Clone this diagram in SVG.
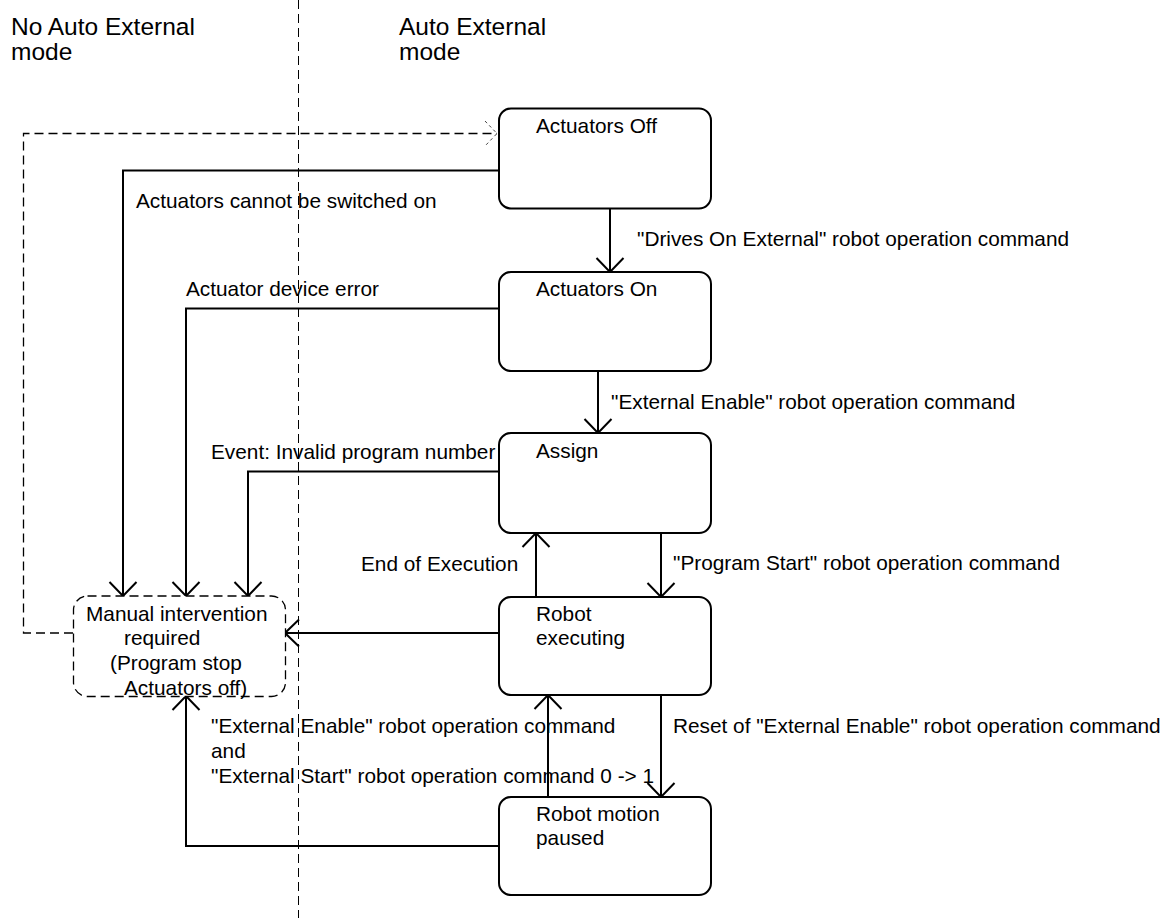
<svg xmlns="http://www.w3.org/2000/svg" width="1172" height="918" viewBox="0 0 1172 918">
  <style>
    text { font-family: "Liberation Sans", Arial, sans-serif; font-size: 20.8px; fill: #000; }
    .hdr { font-size: 24.5px; }
    .state { fill: #fff; stroke: #000; stroke-width: 2; }
    .manual { fill: #fff; stroke: #000; stroke-width: 1.3; stroke-dasharray: 9 5; }
    .edge { fill: none; stroke: #000; stroke-width: 2; }
    .dash { fill: none; stroke: #000; stroke-width: 1.3; stroke-dasharray: 9 5; }
    .divider { fill: none; stroke: #000; stroke-width: 1; stroke-dasharray: 9 5; }
  </style>
  <defs>
    <marker id="open" viewBox="0 0 16 30" refX="15" refY="15" markerWidth="16" markerHeight="30" markerUnits="userSpaceOnUse" orient="auto">
      <polyline points="1,1.5 15,15 1,28.5" fill="none" stroke="#000" stroke-width="2"/>
    </marker>
  </defs>

  <rect width="1172" height="918" fill="#fff"/>

  <!-- mode divider and headings -->
  <g id="modes">
    <line class="divider" x1="298.5" y1="0" x2="298.5" y2="918"/>
    <text class="hdr" x="11" y="35">No Auto External</text>
    <text class="hdr" x="11" y="60">mode</text>
    <text class="hdr" x="399" y="35">Auto External</text>
    <text class="hdr" x="399" y="60">mode</text>
  </g>

  <!-- transitions -->
  <g id="connectors">
    <!-- Actuators Off -> Actuators On -->
    <line class="edge" x1="610" y1="208" x2="610" y2="272" marker-end="url(#open)"/>
    <text x="637" y="246">"Drives On External" robot operation command</text>

    <!-- Actuators On -> Assign -->
    <line class="edge" x1="598" y1="371" x2="598" y2="433" marker-end="url(#open)"/>
    <text x="611" y="409">"External Enable" robot operation command</text>

    <!-- Assign -> Robot executing -->
    <line class="edge" x1="661" y1="533" x2="661" y2="597" marker-end="url(#open)"/>
    <text x="673" y="570">"Program Start" robot operation command</text>

    <!-- Robot executing -> Assign -->
    <line class="edge" x1="536" y1="597" x2="536" y2="533" marker-end="url(#open)"/>
    <text x="361" y="571">End of Execution</text>

    <!-- Robot executing -> Robot motion paused -->
    <line class="edge" x1="661" y1="695" x2="661" y2="797" marker-end="url(#open)"/>
    <text x="673" y="733">Reset of "External Enable" robot operation command</text>

    <!-- Robot motion paused -> Robot executing -->
    <line class="edge" x1="548" y1="797" x2="548" y2="695" marker-end="url(#open)"/>
    <text x="211" y="733">"External Enable" robot operation command</text>
    <text x="211" y="758">and</text>
    <text x="211" y="783">"External Start" robot operation command 0 -&gt; 1</text>

    <!-- Actuators Off -> Manual intervention -->
    <polyline class="edge" points="499,170.5 123,170.5 123,596" marker-end="url(#open)"/>
    <text x="136" y="208">Actuators cannot be switched on</text>

    <!-- Actuators On -> Manual intervention -->
    <polyline class="edge" points="499,308.5 186,308.5 186,596" marker-end="url(#open)"/>
    <text x="186" y="296">Actuator device error</text>

    <!-- Assign -> Manual intervention -->
    <polyline class="edge" points="499,471.5 248,471.5 248,596" marker-end="url(#open)"/>
    <text x="211" y="459">Event: Invalid program number</text>

    <!-- Robot executing -> Manual intervention -->
    <line class="edge" x1="499" y1="633" x2="285" y2="633" marker-end="url(#open)"/>

    <!-- Robot motion paused -> Manual intervention -->
    <polyline class="edge" points="499,846 186,846 186,696" marker-end="url(#open)"/>

    <!-- Manual intervention -> Actuators Off (dashed) -->
    <polyline class="dash" points="73,633 23.5,633 23.5,133.5 497,133.5"/>
    <polyline points="485,121 497,133.5 485,146" fill="none" stroke="#444" stroke-width="1" stroke-dasharray="3 3"/>
  </g>

  <!-- states -->
  <g id="actuators-off">
    <rect class="state" x="499" y="108.5" width="212" height="100" rx="12"/>
    <text x="536" y="133">Actuators Off</text>
  </g>
  <g id="actuators-on">
    <rect class="state" x="499" y="272" width="212" height="99" rx="12"/>
    <text x="536" y="296">Actuators On</text>
  </g>
  <g id="assign">
    <rect class="state" x="499" y="433" width="212" height="100" rx="12"/>
    <text x="536" y="458">Assign</text>
  </g>
  <g id="robot-executing">
    <rect class="state" x="499" y="597" width="212" height="98" rx="12"/>
    <text x="536" y="621">Robot</text>
    <text x="536" y="645">executing</text>
  </g>
  <g id="robot-motion-paused">
    <rect class="state" x="499" y="797" width="212" height="98" rx="12"/>
    <text x="536" y="821">Robot motion</text>
    <text x="536" y="845">paused</text>
  </g>
  <g id="manual-intervention">
    <rect class="manual" x="73.5" y="596" width="212" height="100.5" rx="14"/>
    <text x="86" y="620.5">Manual intervention</text>
    <text x="124" y="645">required</text>
    <text x="110" y="670">(Program stop</text>
    <text x="124" y="695">Actuators off)</text>
  </g>
</svg>
